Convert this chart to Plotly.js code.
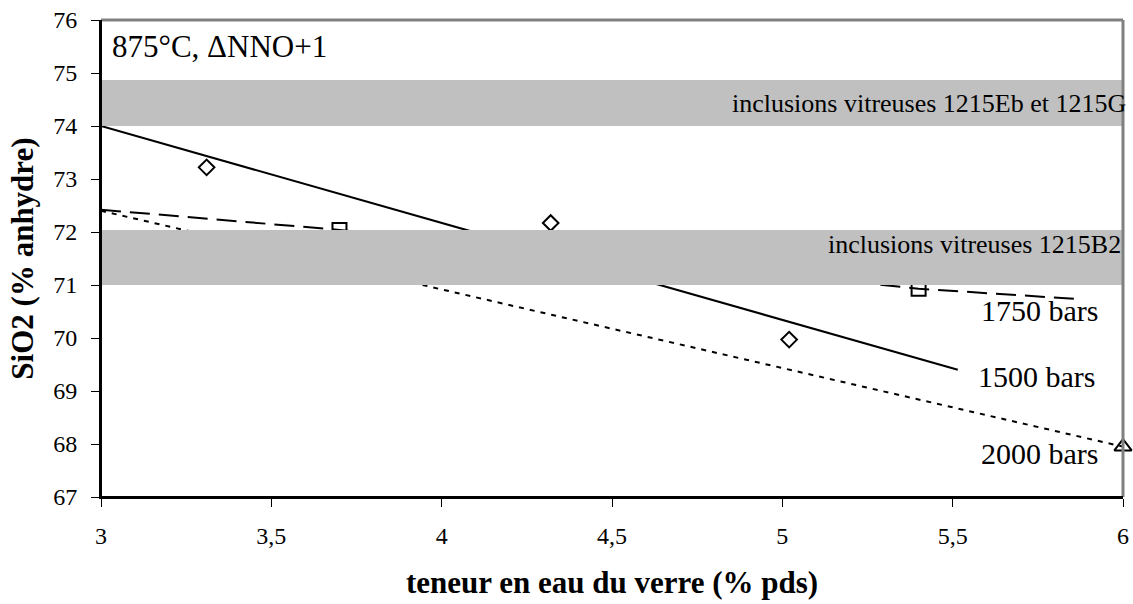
<!DOCTYPE html>
<html>
<head>
<meta charset="utf-8">
<script src="https://cdn.plot.ly/plotly-3.0.1.min.js"></script>
<style>html,body{margin:0;padding:0;background:#fff;}#chart{width:1133px;height:604px;}</style>
</head>
<body>
<div id="chart"></div>
<script>
// Data
const x1500 = [3.31, 4.32, 5.02];
const y1500 = [73.22, 72.17, 69.97];
const x1750 = [3.70, 5.40];
const y1750 = [72.04, 70.93];
const x2000 = [6.0];
const y2000 = [67.95];

// Fitted/trend lines as drawn
const fit1500X = [3.0, 5.515];
const fit1500Y = [74.0, 69.40];
const fit1750X = [3.0, 3.70, 5.40, 5.88];
const fit1750Y = [72.42, 72.04, 70.93, 70.73];
const fit2000X = [3.0, 6.0];
const fit2000Y = [72.40, 67.95];

// Bands of glass inclusions (SiO2 ranges)
const bandLabels = ["inclusions vitreuses 1215Eb et 1215G", "inclusions vitreuses 1215B2"];
const bandLow = [74.0, 71.0];
const bandHigh = [74.87, 72.04];
const bandLabelY = [74.43, 71.76];

const seriesLabels = ["1750 bars", "1500 bars", "2000 bars"];
const seriesLabelX = [5.756, 5.745, 5.756];
const seriesLabelY = [70.51, 69.28, 67.83];

const xTitle = "teneur en eau du verre (% pds)";
const yTitle = "SiO2 (% anhydre)";
const condText = "875°C, ΔNNO+1";

const FONT = "'Liberation Serif', 'Times New Roman', serif";

const traces = [
  {x: fit1500X, y: fit1500Y, mode: 'lines', line: {color: '#000', width: 2}, hoverinfo: 'skip'},
  {x: fit1750X, y: fit1750Y, mode: 'lines', line: {color: '#000', width: 2, dash: '20px,9px'}, hoverinfo: 'skip'},
  {x: fit2000X, y: fit2000Y, mode: 'lines', line: {color: '#000', width: 2, dash: '5px,6px'}, hoverinfo: 'skip'},
  {x: x1500, y: y1500, mode: 'markers', cliponaxis: false,
   marker: {symbol: 'diamond-open', size: 12, color: '#000', line: {width: 2, color: '#000'}}},
  {x: x1750, y: y1750, mode: 'markers', cliponaxis: false,
   marker: {symbol: 'square-open', size: 14, color: '#000', line: {width: 2, color: '#000'}}},
  {x: x2000, y: y2000, mode: 'markers', cliponaxis: false,
   marker: {symbol: 'triangle-up-open', size: 15, color: '#000', line: {width: 2, color: '#000'}}}
];

const shapes = [];
for (let i = 0; i < bandLow.length; i++) {
  shapes.push({type: 'rect', xref: 'paper', yref: 'y', x0: 0, x1: 1, y0: bandLow[i], y1: bandHigh[i],
    fillcolor: '#c0c0c0', line: {width: 0}, layer: 'above'});
}
// frame
shapes.push({type: 'line', xref: 'paper', yref: 'paper', x0: 0, x1: 1, y0: 1, y1: 1, line: {color: '#808080', width: 3}, layer: 'above'});
shapes.push({type: 'line', xref: 'paper', yref: 'paper', x0: 1, x1: 1, y0: 0, y1: 1, line: {color: '#808080', width: 3}, layer: 'above'});
shapes.push({type: 'line', xref: 'paper', yref: 'paper', x0: 0, x1: 0, y0: 0, y1: 1, line: {color: '#000', width: 2}, layer: 'above'});
shapes.push({type: 'line', xref: 'paper', yref: 'paper', x0: 0, x1: 1, y0: 0, y1: 0, line: {color: '#000', width: 2}, layer: 'above'});

const bandShift = [5, 0];
const annotations = [
  {text: condText, xref: 'paper', yref: 'y', x: 0, y: 75.5, xanchor: 'left', yanchor: 'middle', xshift: 9,
   showarrow: false, font: {family: FONT, size: 31, color: '#000'}}
];
for (let i = 0; i < bandLabels.length; i++) {
  annotations.push({text: bandLabels[i], xref: 'paper', yref: 'y', x: 1, y: bandLabelY[i],
    xanchor: 'right', yanchor: 'middle', xshift: bandShift[i], showarrow: false,
    font: {family: FONT, size: 26, color: '#000'}});
}
for (let i = 0; i < seriesLabels.length; i++) {
  annotations.push({text: seriesLabels[i], x: seriesLabelX[i], y: seriesLabelY[i], xanchor: 'center', yanchor: 'middle',
    showarrow: false, font: {family: FONT, size: 30, color: '#000'}});
}

const layout = {
  width: 1133, height: 604,
  margin: {l: 101, r: 10, t: 20, b: 107},
  paper_bgcolor: '#fff', plot_bgcolor: '#fff',
  showlegend: false,
  separators: ', ',
  font: {family: FONT, color: '#000'},
  xaxis: {
    range: [3, 6], dtick: 0.5, tick0: 3, showgrid: false, zeroline: false,
    showline: true, linecolor: '#000', linewidth: 2,
    ticks: 'outside', ticklen: 8, tickwidth: 1, tickcolor: '#000',
    ticklabelstandoff: 8,
    tickfont: {family: FONT, size: 24, color: '#000'},
    title: {text: xTitle, font: {family: FONT, size: 31, color: '#000', weight: 'bold'}, standoff: 24}
  },
  yaxis: {
    range: [67, 76], dtick: 1, tick0: 67, showgrid: false, zeroline: false,
    showline: true, linecolor: '#000', linewidth: 2,
    ticks: 'outside', ticklen: 8, tickwidth: 1, tickcolor: '#000',
    ticklabelstandoff: 9,
    tickfont: {family: FONT, size: 24, color: '#000'},
    title: {text: yTitle, font: {family: FONT, size: 31, color: '#000', weight: 'bold'}, standoff: 10}
  },
  shapes: shapes,
  annotations: annotations
};

Plotly.newPlot('chart', traces, layout, {displayModeBar: false, staticPlot: true});
</script>
</body>
</html>
